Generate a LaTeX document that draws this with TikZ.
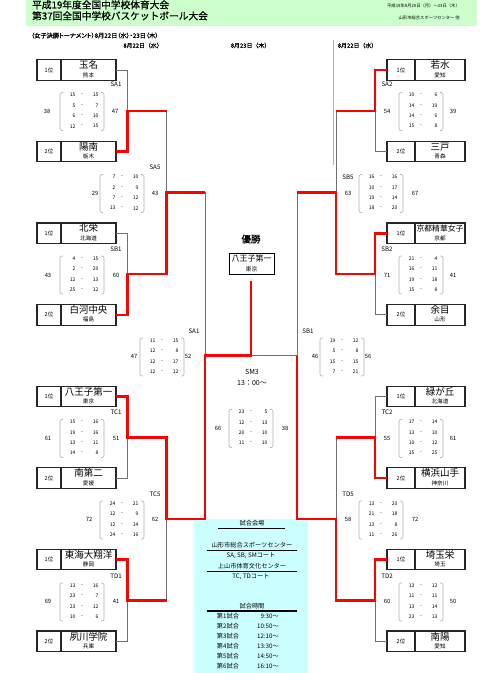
\documentclass[tikz,border=0pt]{standalone}
\usepackage{fontspec}
\setmainfont{Noto Sans CJK JP}
\newfontfamily\heavyjp{Noto Sans CJK JP}[FakeBold=0.8]
\newfontfamily\propjp{Noto Sans CJK JP}[FakeBold=0.8,RawFeature=+palt]
\definecolor{hdrgreen}{HTML}{CCFFCC}
\definecolor{infocyan}{HTML}{CCFFFF}
\definecolor{lngray}{HTML}{707070}
\definecolor{brkgray}{HTML}{B0B0B0}
\newcommand\myfs[1]{\fontsize{#1}{#1}\selectfont}
\tikzset{
  nm/.style={font=\myfs{9.5},inner sep=0},
  pf/.style={font=\myfs{5.6},inner sep=0},
  rk/.style={font=\myfs{5.5},inner sep=0},
  sc/.style={font=\myfs{5},inner sep=0},
  num/.style={font=\myfs{5.8},inner sep=0},
  lab/.style={font=\myfs{6.2},inner sep=0},
  info/.style={font=\myfs{6.2},inner sep=0},
  hdr/.style={font=\heavyjp\myfs{9.7},inner sep=0},
  small/.style={font=\myfs{4.3},inner sep=0},
  datehdr/.style={font=\heavyjp\myfs{5.9},inner sep=0},
  boxcell/.style={draw=black!85,line width=1.1pt,minimum height=20.5pt,inner sep=0,outer sep=0},
  ln/.style={draw=lngray,line width=0.9pt},
  win/.style={draw=red,line width=2.6pt},
  brk/.style={draw=brkgray,line width=0.6pt,rounded corners=2pt},
  uline/.style={draw=black,line width=0.6pt},
}
% left team: id, y centre, rank, name, prefecture, name size
\newcommand\teamL[6]{%
  \node[boxcell,minimum width=24pt,anchor=west] (#1r) at (37,#2) {};
  \node[boxcell,minimum width=55pt,anchor=west] (#1) at (61,#2) {};
  \node[rk] (#1rt) at (49,#2) {#3};
  \node[inner sep=0,font=\myfs{#6}] (#1n) at (88.5,#2-4.8) {#4};
  \node[pf] (#1p) at (88.5,#2+5) {#5};
}
% right team
\newcommand\teamR[6]{%
  \node[boxcell,minimum width=28pt,anchor=west] (#1) at (387,#2) {};
  \node[boxcell,minimum width=50pt,anchor=west] (#1b) at (415,#2) {};
  \node[rk] (#1rt) at (401,#2) {#3};
  \node[inner sep=0,font=\myfs{#6}] (#1n) at (440,#2-4.8) {#4};
  \node[pf] (#1p) at (440,#2+5) {#5};
}
% score block: id, bracket left x, centre y, list a/b
\newcommand\scoreblk[4]{%
  \draw[brk] (#2+3,#3-18.5) -- (#2,#3-18.5) -- (#2,#3+19.5) -- (#2+3,#3+19.5);
  \draw[brk] (#2+41,#3-18.5) -- (#2+44,#3-18.5) -- (#2+44,#3+19.5) -- (#2+41,#3+19.5);
  \foreach \a/\b [count=\i] in {#4} {
    \node[sc,anchor=east] (#1a\i) at (#2+15.5,{#3-15.8+(\i-1)*10.33}) {\a};
    \node[sc] (#1d\i) at (#2+22,{#3-15.8+(\i-1)*10.33}) {-};
    \node[sc,anchor=east] (#1b\i) at (#2+38.5,{#3-15.8+(\i-1)*10.33}) {\b};
  }
}
\begin{document}
\begin{tikzpicture}[x=1pt,y=-1pt]
\useasboundingbox (0,0) rectangle (500,673);
% backgrounds
\fill[hdrgreen] (26,0) rectangle (477,26);
\fill[infocyan] (194,519) rectangle (308,673);
% header
\node[hdr,anchor=west] (title1) at (32,4.8) {平成19年度全国中学校体育大会};
\node[hdr,anchor=west] (title2) at (32,15.8) {第37回全国中学校バスケットボール大会};
\node[small,anchor=east] (hdate) at (460,5.5) {平成19年8月20日（月）～23日（木）};
\node[small,anchor=east] (hplace) at (460,17.5) {山形市総合スポーツセンター 他};
\node[inner sep=0,font=\propjp\myfs{6.2},anchor=west] (sub) at (31,35.5) {（女子決勝トーナメント）8月22日（水）・23日（木）};
\node[datehdr] (d1) at (143,45.5) {8月22日（水）};
\node[datehdr] (d2) at (250.5,45.5) {8月23日（木）};
\node[datehdr] (d3) at (357.5,45.5) {8月22日（水）};
\draw[draw=black!30,line width=0.6pt] (333,40) -- (333,165);

% teams
\teamL{L1}{70}{1位}{玉名}{熊本}{9.5}
\teamL{L2}{151.6}{2位}{陽南}{栃木}{9.5}
\teamL{L3}{233.2}{1位}{北栄}{北海道}{9.5}
\teamL{L4}{314.8}{2位}{白河中央}{福島}{9.5}
\teamL{L5}{396.4}{1位}{八王子第一}{東京}{9.5}
\teamL{L6}{478}{2位}{南第二}{愛媛}{9.5}
\teamL{L7}{559.6}{1位}{東海大翔洋}{静岡}{9.5}
\teamL{L8}{641.2}{2位}{夙川学院}{兵庫}{9.5}
\teamR{R1}{70}{1位}{若水}{愛知}{9.5}
\teamR{R2}{151.6}{2位}{三戸}{青森}{9.5}
\teamR{R3}{233.2}{1位}{京都精華女子}{京都}{7.8}
\teamR{R4}{314.8}{2位}{余目}{山形}{9.5}
\teamR{R5}{396.4}{1位}{緑が丘}{北海道}{9.5}
\teamR{R6}{478}{2位}{横浜山手}{神奈川}{9.5}
\teamR{R7}{559.6}{1位}{埼玉栄}{埼玉}{9.5}
\teamR{R8}{641.2}{2位}{南陽}{愛知}{9.5}

% champion
\node[font=\heavyjp\myfs{9.5},inner sep=0] (yusho) at (251,239) {優勝};
\node[draw=black,line width=1pt,minimum width=45pt,minimum height=21pt,inner sep=0] (champ) at (251.5,263.8) {};
\node[font=\myfs{8},inner sep=0] (champn) at (251.5,258.3) {八王子第一};
\node[font=\myfs{5.8},inner sep=0] (champp) at (251.5,269) {東京};

% junction coordinates
\coordinate (jL1) at (127.5,110.8);
\coordinate (jL2) at (127.5,274);
\coordinate (jL3) at (127.5,437.2);
\coordinate (jL4) at (127.5,600.4);
\coordinate (kL1) at (166.5,192.4);
\coordinate (kL2) at (166.5,518.8);
\coordinate (sL) at (205,355.6);
\coordinate (jR1) at (375,110.8);
\coordinate (jR2) at (375,274);
\coordinate (jR3) at (375,437.2);
\coordinate (jR4) at (375,600.4);
\coordinate (kR1) at (336,192.4);
\coordinate (kR2) at (336,518.8);
\coordinate (sR) at (297,355.6);
\coordinate (cj) at (251,355.6);
\coordinate (ctop) at (251,281);

% grey connectors
\draw[ln] (L1.east) -| (jL1);
\draw[ln] (jL1 -| kL1) -- (kL1);
\draw[ln] (L3.east) -| (jL2);
\draw[ln] (L6.east) -| (jL3);
\draw[ln] (L8.east) -| (jL4);
\draw[ln] (jL4 -| kL2) -- (kL2);
\draw[ln] (kL1 -| sL) -- (sL);
\draw[ln] (R2.west) -| (jR1);
\draw[ln] (jR1 -| kR1) -- (kR1);
\draw[ln] (R4.west) -| (jR2);
\draw[ln] (R5.west) -| (jR3);
\draw[ln] (jR3 -| kR2) -- (kR2);
\draw[ln] (R8.west) -| (jR4);
\draw[ln] (kR1 -| sR) -- (sR) -- (cj);

% red (winners)
\draw[win] (L2.east) -| (jL1) -- (jL1 -| kL1);
\draw[win] (L4.east) -| (jL2) -- (jL2 -| kL1) -- (kL1) -- (kL1 -| sL);
\draw[win] (L5.east) -| (jL3) -- (jL3 -| kL2) -- (kL2) -- (kL2 -| sL) -- (sL) -- (cj) -- (ctop);
\draw[win] (L7.east) -| (jL4) -- (jL4 -| kL2);
\draw[win] (R1.west) -| (jR1) -- (jR1 -| kR1);
\draw[win] (R3.west) -| (jR2) -- (jR2 -| kR1) -- (kR1) -- (kR1 -| sR);
\draw[win] (R6.west) -| (jR3) -- (jR3 -| kR2);
\draw[win] (R7.west) -| (jR4) -- (jR4 -| kR2) -- (kR2) -- (kR2 -| sR) -- (sR);

% score blocks
\scoreblk{SAa}{60}{111}{15/15,5/7,6/10,12/15}
\scoreblk{SBa}{60}{274.5}{4/15,2/20,12/13,25/12}
\scoreblk{TCa}{60}{438}{15/16,19/16,13/11,14/8}
\scoreblk{TDa}{60}{601.5}{13/16,23/7,23/12,10/6}
\scoreblk{SAe}{100}{193}{7/10,2/9,7/12,13/12}
\scoreblk{TCe}{100}{519.5}{24/21,12/9,12/14,24/16}
\scoreblk{SAs}{140}{356.5}{11/15,12/8,12/17,12/12}
\scoreblk{SBs}{320}{356.5}{19/12,5/8,15/15,7/21}
\scoreblk{SMf}{229}{428}{23/5,12/13,20/10,11/10}
\scoreblk{SAb}{399}{111}{10/6,14/19,14/6,15/8}
\scoreblk{SBb}{399}{274.5}{21/4,16/11,19/18,15/8}
\scoreblk{TCb}{399}{438}{17/14,13/10,10/12,15/25}
\scoreblk{TDb}{399}{601.5}{13/12,11/11,13/14,23/13}
\scoreblk{SBe}{359}{193}{16/16,10/17,19/14,18/20}
\scoreblk{TDe}{359}{519.5}{13/20,21/18,13/8,11/26}

% game labels and totals
\node[lab] (tSAa) at (116,84) {SA1};
\node[num] (xSAa) at (47,111) {38};
\node[num] (ySAa) at (115,111) {47};
\node[lab] (tSBa) at (116,249) {SB1};
\node[num] (xSBa) at (48,275) {43};
\node[num] (ySBa) at (116,275) {60};
\node[lab] (tTCa) at (116,412) {TC1};
\node[num] (xTCa) at (48,438) {61};
\node[num] (yTCa) at (116,438) {51};
\node[lab] (tTDa) at (116,576) {TD1};
\node[num] (xTDa) at (48,601) {69};
\node[num] (yTDa) at (116,601) {41};
\node[lab] (tSAe) at (155,167) {SA5};
\node[num] (xSAe) at (95,193) {29};
\node[num] (ySAe) at (155,193) {43};
\node[lab] (tTCe) at (155,494) {TC5};
\node[num] (xTCe) at (89,519) {72};
\node[num] (yTCe) at (155,519) {62};
\node[lab] (tSAs) at (194,331) {SA1};
\node[num] (xSAs) at (134,356) {47};
\node[num] (ySAs) at (188,356) {52};
\node[lab] (tSBs) at (308,331) {SB1};
\node[num] (xSBs) at (315,356) {46};
\node[num] (ySBs) at (368,356) {56};
\node[font=\myfs{7},inner sep=0] (tSMf) at (252,372) {SM3};
\node[font=\myfs{7},inner sep=0] (tmSMf) at (252,382.5) {13：00～};
\node[num] (xSMf) at (218,428) {66};
\node[num] (ySMf) at (285,428) {38};
\node[lab] (tSAb) at (387,84) {SA2};
\node[num] (xSAb) at (387,111) {54};
\node[num] (ySAb) at (453,111) {39};
\node[lab] (tSBb) at (387,249) {SB2};
\node[num] (xSBb) at (387,275) {71};
\node[num] (ySBb) at (453,275) {41};
\node[lab] (tTCb) at (387,412) {TC2};
\node[num] (xTCb) at (387,438) {55};
\node[num] (yTCb) at (453,438) {61};
\node[lab] (tTDb) at (387,576) {TD2};
\node[num] (xTDb) at (387,601) {60};
\node[num] (yTDb) at (453,601) {50};
\node[lab] (tSBe) at (348,177) {SB5};
\node[num] (xSBe) at (348,193) {63};
\node[num] (ySBe) at (415,193) {67};
\node[lab] (tTDe) at (348,494) {TD5};
\node[num] (xTDe) at (348,519) {58};
\node[num] (yTDe) at (415,519) {72};

% info box
\node[info] (iv) at (252,523) {試合会場};
\draw[uline] (218,528) -- (285,528);
\node[info] (iv1) at (252,545.3) {山形市総合スポーツセンター};
\draw[uline] (207,550.3) -- (297,550.3);
\node[info] (iv2) at (251,556) {SA, SB, SMコート};
\node[info] (iv3) at (252,566) {上山市体育文化センター};
\draw[uline] (207,571) -- (297,571);
\node[info] (iv4) at (251,577) {TC, TDコート};
\node[info] (it) at (252,606.3) {試合時間};
\draw[draw=black,line width=1.1pt] (207,611) -- (297,611);
\foreach \gn/\gt [count=\i] in {1/9:30～,2/10:50～,3/12:10～,4/13:30～,5/14:50～,6/16:10～} {
  \node[info] (g\i) at (228,{616.5+(\i-1)*10}) {第\gn{}試合};
  \node[info,anchor=east] (gt\i) at (279,{616.5+(\i-1)*10}) {\gt};
}
\end{tikzpicture}
\end{document}
